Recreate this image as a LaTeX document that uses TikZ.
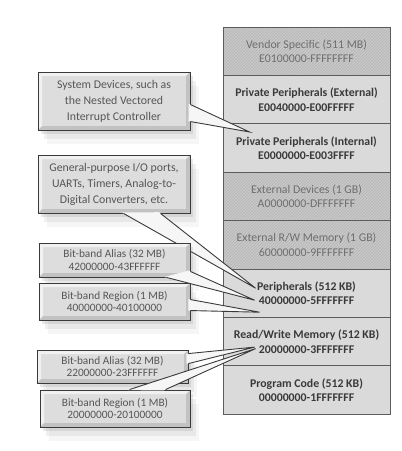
\documentclass[tikz,border=0pt]{standalone}
\usepackage{fontspec}
\setmainfont{Carlito}
\usetikzlibrary{calc,patterns,shadows}
\definecolor{mapEdge}{HTML}{5C5C5C}
\definecolor{mapPlain}{HTML}{DADADA}
\definecolor{mapHatch}{HTML}{C8C8C8}
\definecolor{hatchLine}{HTML}{B4B4B4}
\definecolor{mapText}{HTML}{3A3A3A}
\definecolor{mapMuted}{HTML}{6E6E6E}
\definecolor{callEdge}{HTML}{3A3A3A}
\definecolor{callFill}{HTML}{DDDDDD}
\definecolor{callText}{HTML}{565656}
\definecolor{wedgeFill}{HTML}{F6F6F6}
\newcommand\rowfont{\fontsize{11.8}{14.5}\selectfont}
\newcommand\callthree{\fontsize{11.8}{16}\selectfont}
\newcommand\calltwo{\fontsize{11.3}{12.8}\selectfont}
\newcommand\ppbb{path picture bounding box}
% wedge of a callout: two base points, then the tip
\newcommand\calloutwedge[3]{%
  \fill[wedgeFill] ($(#1)!-2pt!(#3)$) -- (#3) -- ($(#2)!-2pt!(#3)$) -- cycle;
  \draw[wedgeline] (#1) -- (#3) -- (#2);}
\tikzset{
  memrow/.style={rectangle,draw=mapEdge,line width=0.8pt,minimum width=167pt,minimum height=48.4pt,inner sep=0pt,align=center},
  rowplain/.style={memrow,fill=mapPlain,text=mapText,font=\rowfont\bfseries},
  rowhatch/.style={memrow,preaction={fill=mapHatch},pattern=north east lines,pattern color=hatchLine,text=mapMuted,font=\rowfont},
  softshadow/.style={drop shadow={shadow xshift=3pt,shadow yshift=-4pt,opacity=.18},
                     drop shadow={shadow xshift=6pt,shadow yshift=-9pt,opacity=.12},
                     drop shadow={shadow xshift=9pt,shadow yshift=-14pt,opacity=.07}},
  callbox/.style={rectangle,draw=callEdge,line width=0.9pt,fill=callFill,text=callText,align=center,inner sep=0pt,softshadow,
    path picture={
      \fill[white,opacity=.6] (\ppbb.north west) -- (\ppbb.north east) -- ([shift={(-4pt,-4pt)}]\ppbb.north east)
        -- ([shift={(4pt,-4pt)}]\ppbb.north west) -- ([shift={(4pt,4pt)}]\ppbb.south west) -- (\ppbb.south west) -- cycle;
      \fill[black,opacity=.12] (\ppbb.south east) -- (\ppbb.south west) -- ([shift={(4pt,4pt)}]\ppbb.south west)
        -- ([shift={(-4pt,4pt)}]\ppbb.south east) -- ([shift={(-4pt,-4pt)}]\ppbb.north east) -- (\ppbb.north east) -- cycle;}},
  wedgeline/.style={draw=callEdge,line width=0.9pt,line join=miter},
}
\begin{document}
\begin{tikzpicture}[x=1pt,y=1pt]
  \useasboundingbox (0,0) rectangle (402,-451);

  % memory map
  \node[rowhatch] (vendor) at (306.5,-51.2)  {Vendor Specific (511 MB)\\E0100000-FFFFFFFF};
  \node[rowplain] (ppext)  at (306.5,-99.6)  {Private Peripherals (External)\\E0040000-E00FFFFF};
  \node[rowplain] (ppint)  at (306.5,-148.0) {Private Peripherals (Internal)\\E0000000-E003FFFF};
  \node[rowhatch] (extdev) at (306.5,-196.4) {External Devices (1 GB)\\A0000000-DFFFFFFF};
  \node[rowhatch] (extram) at (306.5,-244.8) {External R/W Memory (1 GB)\\60000000-9FFFFFFF};
  \node[rowplain] (periph) at (306.5,-293.2) {Peripherals (512 KB)\\40000000-5FFFFFFF};
  \node[rowplain] (sram)   at (306.5,-341.6) {Read/Write Memory (512 KB)\\20000000-3FFFFFFF};
  \node[rowplain] (code)   at (306.5,-390.0) {Program Code (512 KB)\\00000000-1FFFFFFF};

  % callouts
  \node[callbox,minimum width=152pt,minimum height=58pt,font=\callthree] (sysdev) at (114,-101)
    {System Devices, such as\\the Nested Vectored\\Interrupt Controller};
  \coordinate (sysA) at ([yshift=-33pt]sysdev.north east);
  \coordinate (sysB) at ([yshift=-50pt]sysdev.north east);
  \coordinate (sysTip) at ([xshift=27pt,yshift=16pt]ppint.west);
  \calloutwedge{sysA}{sysB}{sysTip}

  \node[callbox,minimum width=152pt,minimum height=58pt,font=\callthree] (gpio) at (114,-184)
    {General-purpose I/O ports,\\UARTs, Timers, Analog-to-\\Digital Converters, etc.};
  \coordinate (gpioA) at ([xshift=86pt]gpio.south west);
  \coordinate (gpioB) at ([xshift=123pt]gpio.south west);
  \coordinate (gpioTip) at ([xshift=33pt,yshift=5pt]periph.west);
  \calloutwedge{gpioA}{gpioB}{gpioTip}

  \node[callbox,minimum width=151pt,minimum height=34pt,font=\calltwo] (aliasHi) at (114.5,-260)
    {Bit-band Alias (32 MB)\\42000000-43FFFFFF};
  \coordinate (aliasHiA) at ([xshift=128pt]aliasHi.south west);
  \coordinate (aliasHiB) at ([yshift=6pt]aliasHi.south east);
  \coordinate (aliasHiTip) at ([xshift=32pt,yshift=-7pt]periph.west);
  \calloutwedge{aliasHiA}{aliasHiB}{aliasHiTip}

  \node[callbox,minimum width=151pt,minimum height=37pt,font=\calltwo] (regionHi) at (114.5,-301.5)
    {Bit-band Region (1 MB)\\40000000-40100000};
  \coordinate (regionHiA) at ([yshift=-17pt]regionHi.north east);
  \coordinate (regionHiB) at ([yshift=-28pt]regionHi.north east);
  \coordinate (regionHiTip) at ([xshift=37pt,yshift=-19pt]periph.west);
  \calloutwedge{regionHiA}{regionHiB}{regionHiTip}

  \node[callbox,minimum width=151pt,minimum height=33pt,font=\calltwo] (aliasLo) at (112.5,-366.5)
    {Bit-band Alias (32 MB)\\22000000-23FFFFFF};
  \coordinate (aliasLoA) at ([yshift=-4pt]aliasLo.north east);
  \coordinate (aliasLoB) at ([yshift=-14pt]aliasLo.north east);
  \coordinate (aliasLoTip) at ([xshift=32pt,yshift=-5.5pt]sram.west);
  \calloutwedge{aliasLoA}{aliasLoB}{aliasLoTip}

  \node[callbox,minimum width=150pt,minimum height=37pt,font=\calltwo] (regionLo) at (115,-408.5)
    {Bit-band Region (1 MB)\\20000000-20100000};
  \coordinate (regionLoA) at ([xshift=90pt]regionLo.north west);
  \coordinate (regionLoB) at ([xshift=126pt]regionLo.north west);
  \coordinate (regionLoTip) at ([xshift=33pt,yshift=-7pt]sram.west);
  \calloutwedge{regionLoA}{regionLoB}{regionLoTip}
\end{tikzpicture}
\end{document}
